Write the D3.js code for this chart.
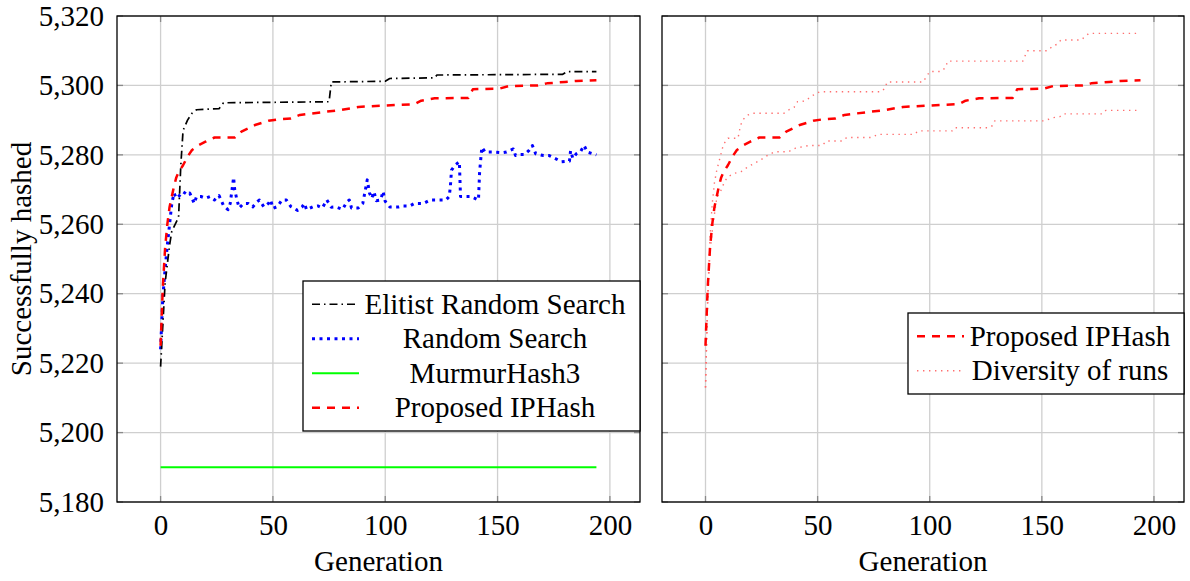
<!DOCTYPE html>
<html>
<head>
<meta charset="utf-8">
<script src="https://cdn.jsdelivr.net/npm/d3@7"></script>
<style>
  body { margin: 0; background: #fff; }
  text { font-family: "Liberation Serif", "Times New Roman", serif; fill: #000; }
</style>
</head>
<body>
<div class="chart"></div>
<script>
// values: [generation, successfully hashed]
const eliteRandomSearch = [[0,5219],[2,5243],[4,5254],[5,5258],[8,5262],[9,5277],[10,5287],[12,5290],[14,5292],[16,5293],
    [26,5293.3],[28,5295],[75,5295.3],[76,5301],[100,5301.2],[102,5302],[122,5302.2],[123,5303],[179,5303.2],[181,5304],[194,5304]];

const randomSearch = [[0,5224],[1,5239],[2,5247],[3,5254],[4,5260],[5,5266],[6,5269],[7,5267.5],[8,5268],[10,5269.4],[12,5268.5],
    [13,5269],[15,5266],[16,5268],[18,5268],[20,5267.5],[22,5268],[24,5267],[26,5268.3],[28,5265.4],[30,5264.2],[31,5266],
    [32.5,5273.5],[33,5270],[34,5267],[35,5264.7],[37,5266],[39,5266],[41,5265],[43,5266.5],[44,5267],[46,5265],[48,5266],
    [49,5267],[50,5264.6],[52,5265.1],[54,5267],[56,5267],[58,5265.1],[61,5264],[63,5265],[64,5266],[65,5264.2],[68,5265.1],
    [70,5265.3],[72,5264.7],[74,5267],[76,5264.9],[78,5265],[81,5264.3],[83,5266.5],[84,5267],[85,5264.7],[88,5264.7],
    [90,5266],[92,5272.8],[93,5269],[94,5267.5],[95,5269.4],[96,5266.8],[98,5267],[99,5269.5],[100,5266.6],[102,5265],
    [106,5265],[108,5265.3],[111,5265.3],[113,5266],[117,5266],[120,5267],[124,5267],[127,5267],[128.5,5268],[129,5271],
    [129.5,5275.6],[131,5277],[133,5278],[133.5,5268],[138,5268],[141.5,5267],[142,5275],[143,5282.2],[144.5,5280.8],
    [148,5280.8],[152,5280.6],[154,5280.8],[157,5281.7],[158,5279.8],[160,5280.1],[162,5280.1],[164,5281.3],[165.5,5282.7],
    [167,5280.3],[170.5,5279.8],[173,5279.8],[175.5,5279],[178.5,5278],[182,5278.2],[182.5,5281.2],[183.5,5279],[185,5280.3],
    [187,5281],[188.5,5282.7],[190,5280.8],[194,5280]];

const murmurHash3 = [[0,5190],[194,5190]];

const ipHash = [[0,5225],[1,5242],[2,5253],[3,5260],[4,5265],[5,5268],[6,5271],[7,5273.5],[8,5275],[10,5277],[12,5279.5],
    [14,5281.4],[17,5282.8],[20,5283.8],[24,5285],[33,5285],[36,5286.7],[42,5288.6],[48,5289.8],[52,5290.2],[58,5290.5],
    [62,5291.5],[72,5292.3],[80,5292.9],[88,5293.8],[100,5294.2],[106,5294.4],[113,5294.6],[116,5295.6],[122,5296.3],
    [137,5296.4],[139,5298.9],[151,5299.1],[155,5299.8],[168,5300],[172,5300.6],[180,5301],[185,5301.3],[194,5301.5]];

const diversityUpper = [[0,5213],[1,5240],[2,5256],[3,5266],[4,5272],[5,5275.5],[6,5278],[7,5280.5],[8,5283],[10,5284.8],
    [14.5,5284.8],[15.5,5288.1],[16.5,5290],[19,5291.5],[21,5292],[35,5292],[37,5292.9],[39.5,5293.7],[41,5295.3],
    [44.5,5295.5],[47.5,5297],[51,5298.2],[78.5,5298.2],[80,5299.2],[81,5301],[97,5301],[98.5,5302.5],[100,5304],[105,5304],
    [107,5305.1],[108,5307],[141.5,5307],[143.5,5310],[152.5,5310],[155,5311.4],[157,5311.9],[158.5,5313.1],[167.5,5313.1],
    [169,5313.9],[171,5315],[194,5315]];

const diversityLower = [[0,5213],[1,5238],[2,5252],[3,5258],[4,5263],[5,5267.5],[7,5269.9],[8.5,5272.3],[10,5273.7],[13,5274.7],
    [16,5275.2],[19,5276.6],[22,5277.6],[25,5278.7],[28,5280],[31,5280.9],[37,5280.9],[40,5281.9],[43,5282.3],[46,5282.7],
    [52,5282.7],[54,5284],[61,5284],[63,5285],[74,5285],[77,5285.9],[93,5285.9],[95,5286.9],[110,5286.9],[111,5287.8],
    [126,5287.8],[128,5288.4],[129,5289.8],[151,5289.8],[155,5290.7],[158,5291],[159.5,5291.8],[177,5291.8],[178.5,5292.8],
    [194,5292.8]];

const xTicks = [0, 50, 100, 150, 200];
const yTicks = [5180, 5200, 5220, 5240, 5260, 5280, 5300, 5320];
const leftLegend = ["Elitist Random Search", "Random Search", "MurmurHash3", "Proposed IPHash"];
const rightLegend = ["Proposed IPHash", "Diversity of runs"];

var width = 1190, height = 581;
var plotTop = 16, plotBottom = 502;
var fontSize = 29;

const svg = d3.select(".chart").append("svg")
    .attr("width", width)
    .attr("height", height);

const yScale = d3.scaleLinear()
    .domain([5180, 5320])
    .range([plotBottom, plotTop]);

// styles for every series
const styles = {
    elite:  { stroke: "#000", width: 1.7, dash: "8,4,1.5,4" },
    random: { stroke: "#0000ff", width: 3, dash: "3,4.5" },
    murmur: { stroke: "#00ff00", width: 2, dash: null },
    ip:     { stroke: "#ff0000", width: 2.5, dash: "8,7" },
    div:    { stroke: "#ff6f6f", width: 1.4, dash: "1.4,4.6" }
};

function Panel(x0, x1, showYLabels){
    const g = svg.append("g");
    const xScale = d3.scaleLinear()
        .domain([-19.4, 213.4])
        .range([x0, x1]);

    // grid
    g.selectAll(".vgrid").data(xTicks).join("line")
        .attr("x1", d => xScale(d)).attr("x2", d => xScale(d))
        .attr("y1", plotTop).attr("y2", plotBottom)
        .attr("stroke", "#cfcfcf").attr("stroke-width", 1.3);
    g.selectAll(".hgrid").data(yTicks).join("line")
        .attr("x1", x0).attr("x2", x1)
        .attr("y1", d => yScale(d)).attr("y2", d => yScale(d))
        .attr("stroke", "#cfcfcf").attr("stroke-width", 1.3);

    // tick marks inside the frame, all four sides
    const tk = 6;
    xTicks.forEach(t => {
        g.append("line").attr("x1", xScale(t)).attr("x2", xScale(t)).attr("y1", plotBottom).attr("y2", plotBottom - tk)
            .attr("stroke", "#8a8a8a").attr("stroke-width", 1.3);
        g.append("line").attr("x1", xScale(t)).attr("x2", xScale(t)).attr("y1", plotTop).attr("y2", plotTop + tk)
            .attr("stroke", "#8a8a8a").attr("stroke-width", 1.3);
    });
    yTicks.forEach(t => {
        g.append("line").attr("x1", x0).attr("x2", x0 + tk).attr("y1", yScale(t)).attr("y2", yScale(t))
            .attr("stroke", "#8a8a8a").attr("stroke-width", 1.3);
        g.append("line").attr("x1", x1).attr("x2", x1 - tk).attr("y1", yScale(t)).attr("y2", yScale(t))
            .attr("stroke", "#8a8a8a").attr("stroke-width", 1.3);
    });

    // tick labels
    const xAxis = d3.axisBottom(xScale).tickValues(xTicks).tickSize(0).tickPadding(0);
    g.append("g")
        .attr("transform", `translate(0, ${plotBottom + 12})`)
        .call(xAxis)
        .call(a => a.select(".domain").remove())
        .selectAll("text")
        .attr("dy", "0.71em")
        .style("font-size", fontSize + "px")
        .style("font-family", "Liberation Serif, serif");

    if (showYLabels){
        const yAxis = d3.axisLeft(yScale).tickValues(yTicks).tickSize(0).tickPadding(0).tickFormat(d3.format(","));
        g.append("g")
            .attr("transform", `translate(${x0 - 13}, 0)`)
            .call(yAxis)
            .call(a => a.select(".domain").remove())
            .selectAll("text")
            .style("font-size", fontSize + "px")
            .style("font-family", "Liberation Serif, serif");
    }

    g.append("text")
        .attr("x", (x0 + x1) / 2)
        .attr("y", 571)
        .attr("text-anchor", "middle")
        .style("font-size", fontSize + "px")
        .text("Generation");

    function addLine(data, st){
        const line = d3.line().x(d => xScale(d[0])).y(d => yScale(d[1]));
        g.append("path")
            .datum(data)
            .attr("fill", "none")
            .attr("stroke", st.stroke)
            .attr("stroke-width", st.width)
            .attr("stroke-dasharray", st.dash)
            .attr("stroke-linejoin", "round")
            .attr("d", line);
    }

    function frame(){
        g.append("rect")
            .attr("x", x0).attr("y", plotTop)
            .attr("width", x1 - x0).attr("height", plotBottom - plotTop)
            .attr("fill", "none").attr("stroke", "#000").attr("stroke-width", 1.3);
    }

    function legend(labels, keys, lx0, ly0, rowH, textX){
        const lx1 = x1;
        const h = rowH * labels.length + 12;
        g.append("rect")
            .attr("x", lx0).attr("y", ly0)
            .attr("width", lx1 - lx0).attr("height", h)
            .attr("fill", "#fff").attr("stroke", "#000").attr("stroke-width", 1.3);
        labels.forEach((lbl, i) => {
            const cy = ly0 + 6 + rowH * (i + 0.5);
            const st = styles[keys[i]];
            g.append("line")
                .attr("x1", lx0 + 9).attr("x2", lx0 + 56)
                .attr("y1", cy).attr("y2", cy)
                .attr("stroke", st.stroke)
                .attr("stroke-width", st.width)
                .attr("stroke-dasharray", st.dash);
            g.append("text")
                .attr("x", textX)
                .attr("y", cy)
                .attr("dy", "0.33em")
                .attr("text-anchor", "middle")
                .style("font-size", fontSize + "px")
                .text(lbl);
        });
    }

    return {xScale, addLine, frame, legend};
}

const left = Panel(117, 640, true);
left.addLine(murmurHash3, styles.murmur);
left.addLine(randomSearch, styles.random);
left.addLine(eliteRandomSearch, styles.elite);
left.addLine(ipHash, styles.ip);
left.frame();
left.legend(leftLegend, ["elite", "random", "murmur", "ip"], 303, 281, 34.5, 495);

const right = Panel(662, 1184, false);
right.addLine(diversityUpper, styles.div);
right.addLine(diversityLower, styles.div);
right.addLine(ipHash, styles.ip);
right.frame();
right.legend(rightLegend, ["ip", "div"], 908, 313, 34.5, 1070);

svg.append("text")
    .attr("transform", `translate(31, ${(plotTop + plotBottom) / 2}) rotate(-90)`)
    .attr("text-anchor", "middle")
    .style("font-size", fontSize + "px")
    .text("Successfully hashed");
</script>
</body>
</html>
